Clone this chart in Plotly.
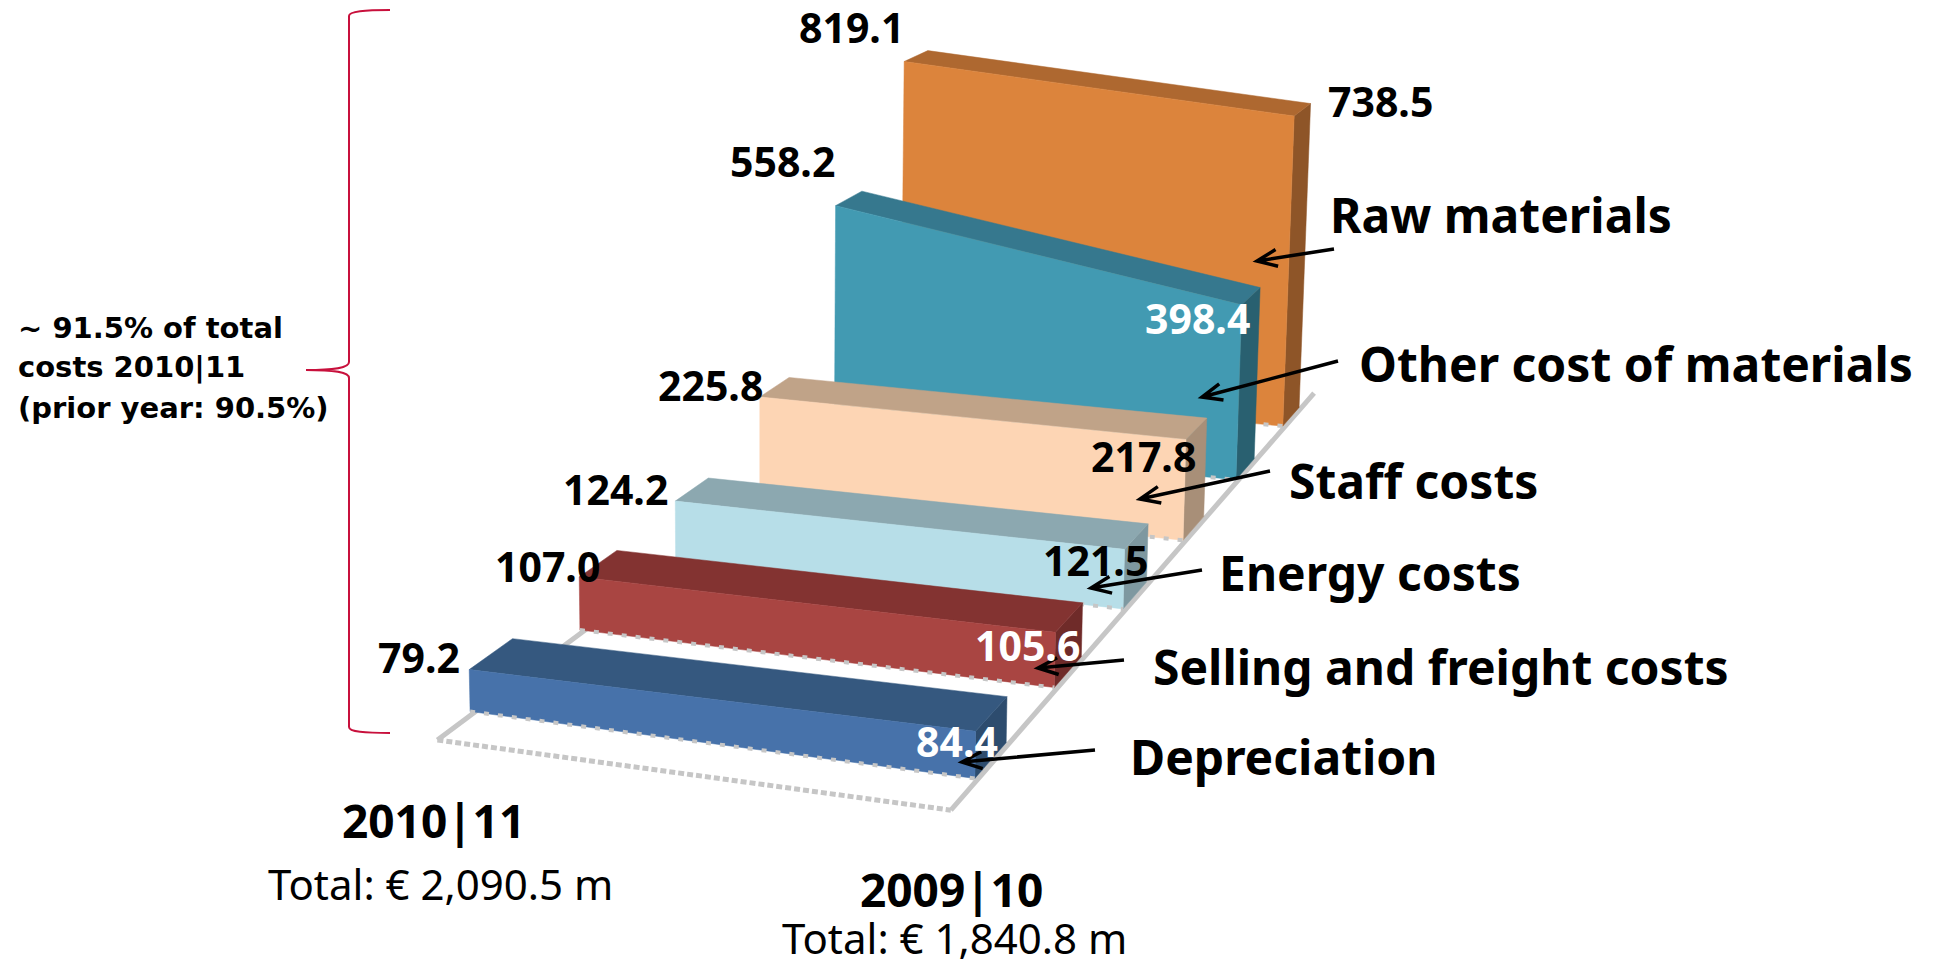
import plotly.graph_objects as go

# Cost categories from the front row to the back row, in EUR million
categories = ["Depreciation", "Selling and freight costs", "Energy costs",
              "Staff costs", "Other cost of materials", "Raw materials"]
costs_2010_11 = [79.2, 107.0, 124.2, 225.8, 558.2, 819.1]
costs_2009_10 = [84.4, 105.6, 121.5, 217.8, 398.4, 738.5]

W, H = 1933, 967

# Shades per row: front face, top face, right-hand face
FACE_COLOURS = ["#4772AA", "#A94542", "#B7DEE8", "#FDD5B4", "#429AB2", "#DC843C"]
TOP_COLOURS = ["#35587F", "#833331", "#8CA8B0", "#C0A388", "#36788E", "#AE6830"]
SIDE_COLOURS = ["#2D4C6E", "#6F2B29", "#7E98A0", "#A88F78", "#296070", "#8E5528"]
FLOOR_GREY = "#C6C6C6"

# Row thickness and floor extent, in (year, row) units
THICKNESS = 0.376
FLOOR_LEFT, FLOOR_RIGHT = 0.010, 1.006
FLOOR_FRONT, FLOOR_BACK = -0.311, 5.680


def project(year, row, value):
    """Oblique perspective view of the (year, row, value) chart box."""
    v = value / 100.0
    w = -0.057846 * year + 0.073713 * row - 0.003786 * v + 1.0
    px = 448.404472 * year + 152.576885 * row - 2.880915 * v + 470.089594
    py = 21.921413 * year - 34.992041 * row - 55.464271 * v + 711.508316
    return px / w, py / w


def polygon(corners, colour):
    pts = [project(*c) for c in corners]
    return go.Scatter(x=[p[0] for p in pts] + [pts[0][0]],
                      y=[p[1] for p in pts] + [pts[0][1]],
                      mode="lines", fill="toself", fillcolor=colour,
                      line=dict(color=colour, width=0.5),
                      hoverinfo="skip", showlegend=False)


def floor_line(a, b, dash, width=5):
    pts = [project(*a), project(*b)]
    return go.Scatter(x=[p[0] for p in pts], y=[p[1] for p in pts], mode="lines",
                      line=dict(color=FLOOR_GREY, width=width, dash=dash),
                      hoverinfo="skip", showlegend=False)


fig = go.Figure()

# Floor outline of the chart box
fig.add_trace(floor_line((FLOOR_LEFT, FLOOR_FRONT, 0), (FLOOR_RIGHT, FLOOR_FRONT, 0), "6px,3px"))
fig.add_trace(floor_line((FLOOR_LEFT, FLOOR_FRONT, 0), (FLOOR_LEFT, FLOOR_BACK, 0), "solid"))
fig.add_trace(floor_line((FLOOR_RIGHT, FLOOR_FRONT, 0), (FLOOR_RIGHT, FLOOR_BACK, 0), "solid"))

# Ribbons, painted from the back row forward
for i in reversed(range(len(categories))):
    left, right = costs_2010_11[i], costs_2009_10[i]
    back = i + THICKNESS
    fig.add_trace(polygon([(1, i, 0), (1, back, 0), (1, back, right), (1, i, right)], SIDE_COLOURS[i]))
    fig.add_trace(polygon([(0, i, left), (0, back, left), (1, back, right), (1, i, right)], TOP_COLOURS[i]))
    fig.add_trace(polygon([(0, i, 0), (0, i, left), (1, i, right), (1, i, 0)], FACE_COLOURS[i]))
    fig.add_trace(floor_line((0, i, 0), (1, i, 0), "5px,9px", width=4))


def label(text, x, y, size=41, colour="#000000", bold=True, anchor="center", family="Noto Sans"):
    shown = f"<b>{text}</b>" if bold else text
    return dict(text=shown, x=x, y=y, xref="x", yref="y", xanchor=anchor, yanchor="middle",
                showarrow=False, font=dict(family=family, size=size, color=colour))


# Value labels are formatted from the series themselves
LEFT_SPOTS = [(419, 657), (547, 566), (615, 489), (710, 385), (782, 161), (851, 27)]
RIGHT_SPOTS = [(957, 741), (1027, 645), (1095, 560), (1143, 456), (1197, 318), (1380, 101)]
RIGHT_INK = ["#FFFFFF", "#FFFFFF", "#000000", "#000000", "#FFFFFF", "#000000"]
annotations = []
for i in range(len(categories)):
    annotations.append(label(f"{costs_2010_11[i]:.1f}", *LEFT_SPOTS[i]))
    annotations.append(label(f"{costs_2009_10[i]:.1f}", *RIGHT_SPOTS[i], colour=RIGHT_INK[i]))

# Category names beside their arrows
NAME_SPOTS = [(1128, 756), (1151, 666), (1217, 572), (1287, 480), (1357, 363), (1328, 214)]
for name, spot in zip(categories, NAME_SPOTS):
    annotations.append(label(name, *spot, size=48, anchor="left"))

# Year captions and totals
annotations += [
    label("2010|11", 433, 820, size=46),
    label("Total: € 2,090.5 m", 440, 883, size=42, bold=False),
    label("2009|10", 951, 889, size=46),
    label("Total: € 1,840.8 m", 954, 937, size=42, bold=False),
    label("~ 91.5% of total", 16, 328, size=29, anchor="left", family="DejaVu Sans"),
    label("costs 2010|11", 16, 367, size=29, anchor="left", family="DejaVu Sans"),
    label("(prior year: 90.5%)", 16, 408, size=29, anchor="left", family="DejaVu Sans"),
]

# Pointer arrows as tail and tip positions
ARROWS = [((1095, 750), (962, 762)), ((1124, 660), (1038, 668)), ((1202, 570), (1091, 588)),
          ((1270, 471), (1140, 499)), ((1338, 361), (1202, 397)), ((1334, 249), (1257, 261))]


def arrow_shape(tail, tip, barb=20.0, spread=0.42):
    dx, dy = tail[0] - tip[0], tail[1] - tip[1]
    n = (dx * dx + dy * dy) ** 0.5
    ux, uy = dx / n, dy / n
    a = (tip[0] + barb * (ux - spread * uy), tip[1] + barb * (uy + spread * ux))
    b = (tip[0] + barb * (ux + spread * uy), tip[1] + barb * (uy - spread * ux))
    path = (f"M{tail[0]},{tail[1]} L{tip[0]},{tip[1]} "
            f"M{a[0]:.1f},{a[1]:.1f} L{tip[0]},{tip[1]} L{b[0]:.1f},{b[1]:.1f}")
    return dict(type="path", path=path, xref="x", yref="y", line=dict(color="#000000", width=3.5))


shapes = [arrow_shape(t, p) for t, p in ARROWS]

# Brace grouping all six categories
shapes.append(dict(
    type="path", xref="x", yref="y", line=dict(color="#C8103C", width=2),
    path=("M390,10 C365,10 349,11 349,16 L349,362 C349,368 335,370 306,370 "
          "C335,370 349,372 349,378 L349,727 C349,732 365,733 390,733"),
))

fig.update_layout(
    width=W, height=H, margin=dict(l=0, r=0, t=0, b=0),
    paper_bgcolor="#FFFFFF", plot_bgcolor="#FFFFFF", showlegend=False,
    xaxis=dict(range=[0, W], visible=False, fixedrange=True),
    yaxis=dict(range=[H, 0], visible=False, fixedrange=True),
    annotations=annotations, shapes=shapes,
)

fig.write_html("out.html", config={"displayModeBar": False})
